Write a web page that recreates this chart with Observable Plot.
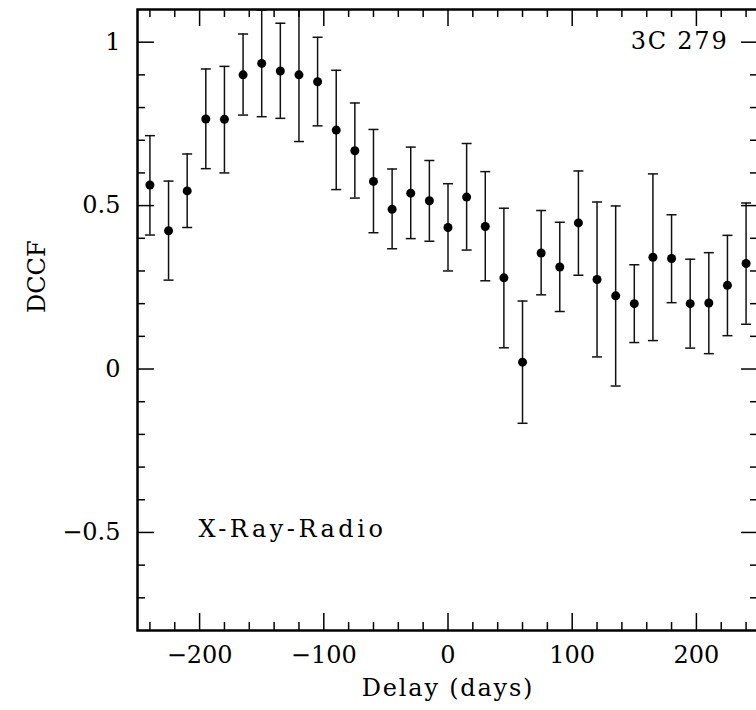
<!DOCTYPE html>
<html><head><meta charset="utf-8">
<script src="https://cdn.jsdelivr.net/npm/d3@7"></script>
<script src="https://cdn.jsdelivr.net/npm/@observablehq/plot@0.6"></script>
<style>
html,body{margin:0;padding:0;background:#fff;overflow:hidden;}
</style></head><body><div id="chart"></div>
<script>
const delays = [-240,-225,-210,-195,-180,-165,-150,-135,-120,-105,-90,-75,-60,-45,-30,-15,0,15,30,45,60,75,90,105,120,135,150,165,180,195,210,225,240];
const dcff = [0.563,0.423,0.545,0.765,0.764,0.900,0.935,0.912,0.900,0.879,0.731,0.668,0.574,0.489,0.538,0.515,0.433,0.526,0.436,0.279,0.021,0.355,0.312,0.447,0.274,0.224,0.200,0.342,0.338,0.200,0.202,0.256,0.323];
const errHigh = [0.714,0.575,0.658,0.918,0.926,1.025,1.098,1.058,1.104,1.015,0.914,0.814,0.733,0.612,0.679,0.638,0.567,0.690,0.604,0.492,0.208,0.485,0.449,0.606,0.511,0.499,0.319,0.597,0.472,0.336,0.356,0.409,0.508];
const errLow = [0.410,0.272,0.433,0.613,0.600,0.777,0.772,0.767,0.696,0.744,0.549,0.523,0.417,0.368,0.399,0.391,0.300,0.364,0.270,0.065,-0.166,0.227,0.176,0.287,0.037,-0.052,0.081,0.087,0.203,0.064,0.047,0.102,0.137];

const xMajorTicks = [-200,-100,0,100,200];
const xTickLabels = ["\u2212200","\u2212100","0","100","200"];
const xMinorTicks = [-240,-220,-180,-160,-140,-120,-80,-60,-40,-20,20,40,60,80,120,140,160,180,220,240];
const yMajorTicks = [-0.5,0,0.5,1];
const yTickLabels = ["\u22120.5","0","0.5","1"];
const yMinorTicks = [-0.7,-0.6,-0.4,-0.3,-0.2,-0.1,0.1,0.2,0.3,0.4,0.6,0.7,0.8,0.9];

const xLabel = "Delay (days)";
const yLabel = "DCCF";
const sourceLabel = "3C 279";
const bandLabel = "X-Ray-Radio";

const data = delays.map((d, i) => ({delay: d, dcff: dcff[i], lo: errLow[i], hi: errHigh[i]}));

const W = 756, H = 710, mT = 9, mB = 80, mL = 137, mR = -2;
const fw = W - mL - mR, fh = H - mT - mB;
const majorLen = 17, minorLen = 8;
const font = "DejaVu Serif";
const ink = "#000";

const capSymbol = {draw(ctx) { ctx.moveTo(-5, 0); ctx.lineTo(5, 0); }};

const chart = Plot.plot({
  width: W, height: H,
  marginTop: mT, marginBottom: mB, marginLeft: mL, marginRight: mR,
  style: {fontFamily: font, fontSize: "24px", background: "#fff", color: ink, maxWidth: "none"},
  x: {domain: [-250, 250], axis: null},
  y: {domain: [-0.8, 1.1], axis: null},
  marks: [
    Plot.ruleX(data, {x: "delay", y1: "lo", y2: "hi", stroke: "#111", strokeWidth: 1.5, clip: true}),
    Plot.dot(data, {x: "delay", y: "hi", symbol: capSymbol, stroke: "#111", strokeWidth: 1.5, fill: "none", clip: true}),
    Plot.dot(data, {x: "delay", y: "lo", symbol: capSymbol, stroke: "#111", strokeWidth: 1.5, fill: "none", clip: true}),
    Plot.dot(data, {x: "delay", y: "dcff", r: 4.5, fill: ink, stroke: "none"}),
    // bottom / top ticks
    Plot.tickX(xMajorTicks, {x: d => d, insetTop: fh - majorLen, stroke: ink, strokeWidth: 1.5}),
    Plot.tickX(xMinorTicks, {x: d => d, insetTop: fh - minorLen, stroke: ink, strokeWidth: 1.5}),
    Plot.tickX(xMajorTicks, {x: d => d, insetBottom: fh - majorLen, stroke: ink, strokeWidth: 1.5}),
    Plot.tickX(xMinorTicks, {x: d => d, insetBottom: fh - minorLen, stroke: ink, strokeWidth: 1.5}),
    // left / right ticks
    Plot.tickY(yMajorTicks, {y: d => d, insetRight: fw - majorLen, stroke: ink, strokeWidth: 1.5}),
    Plot.tickY(yMinorTicks, {y: d => d, insetRight: fw - minorLen, stroke: ink, strokeWidth: 1.5}),
    Plot.tickY(yMajorTicks, {y: d => d, insetLeft: fw - majorLen, stroke: ink, strokeWidth: 1.5}),
    Plot.tickY(yMinorTicks, {y: d => d, insetLeft: fw - minorLen, stroke: ink, strokeWidth: 1.5}),
    Plot.frame({stroke: ink, strokeWidth: 2.5}),
    // tick labels
    Plot.text(xMajorTicks, {x: d => d, text: (d, i) => xTickLabels[i], frameAnchor: "bottom", dy: 25, lineAnchor: "middle", fontSize: 24, fill: ink}),
    Plot.text(yMajorTicks, {y: d => d, text: (d, i) => yTickLabels[i], frameAnchor: "left", dx: -17, textAnchor: "end", lineAnchor: "middle", fontSize: 24, fill: ink}),
    // axis titles
    Plot.text([xLabel], {text: d => d, frameAnchor: "bottom", dy: 58, lineAnchor: "middle", fontSize: 24, fill: ink, style: ""}),
    Plot.text([yLabel], {text: d => d, frameAnchor: "left", dx: -100, dy: -7, rotate: -90, lineAnchor: "middle", fontSize: 24, fill: ink}),
    // annotations
    Plot.text([sourceLabel], {text: d => d, frameAnchor: "top-right", dx: -30, dy: 32, textAnchor: "end", lineAnchor: "middle", fontSize: 24, fill: ink}),
    Plot.text([bandLabel], {text: d => d, frameAnchor: "bottom-left", dx: 61, dy: -101, textAnchor: "start", lineAnchor: "middle", fontSize: 24, fill: ink})
  ]
});
document.getElementById("chart").appendChild(chart);
// widen the Hershey-like lettering of titles
d3.select(chart).selectAll("text").each(function() {
  const t = this.textContent;
  if (t === xLabel || t === sourceLabel) this.setAttribute("letter-spacing", "1.8");
  if (t === bandLabel) this.setAttribute("letter-spacing", "3.5");
});
</script>
</body></html>
